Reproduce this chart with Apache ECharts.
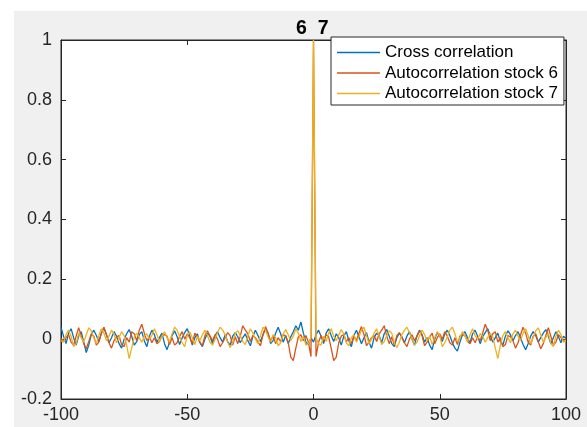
<!DOCTYPE html>
<html>
<head>
<meta charset="utf-8">
<script src="https://cdn.jsdelivr.net/npm/echarts@6/dist/echarts.min.js"></script>
<style>
  html, body { margin: 0; padding: 0; background: #fff; }
  .figure-bg { position: absolute; left: 14px; top: 11px; width: 573px; height: 416px; background: #f0f0f0; }
  #chart { position: absolute; left: 0; top: 0; width: 587px; height: 427px; }
</style>
</head>
<body>
<div class="figure-bg"></div>
<div id="chart"></div>
<script>
// lags -100 .. 100
const lags = Array.from({ length: 201 }, (_, i) => i - 100)

// cross correlation, lags -100 .. 100
const crossCorr = [
  0.040, 0.010, -0.015, 0.020, 0.035, 0.005, -0.020, 0.010, 0.025, -0.010,
  -0.045, -0.020, 0.015, 0.030, 0.012, -0.008, 0.020, 0.038, 0.015, -0.012,
  0.005, 0.025, 0.010, -0.015, -0.030, 0.000, 0.018, 0.032, 0.010, -0.020,
  -0.008, 0.015, 0.025, -0.005, -0.025, 0.010, 0.030, 0.015, -0.010, 0.005,
  0.020, -0.015, -0.035, -0.010, 0.012, 0.028, 0.008, -0.018, 0.005, 0.022,
  0.035, 0.010, -0.020, 0.005, 0.018, -0.012, -0.025, 0.000, 0.020, 0.010,
  -0.015, 0.012, 0.025, 0.005, -0.010, 0.015, -0.008, -0.020, 0.010, 0.022,
  0.008, -0.012, 0.005, 0.018, -0.005, -0.022, 0.010, 0.030, 0.012, -0.008,
  0.015, 0.035, 0.020, -0.015, -0.005, 0.020, 0.040, 0.018, -0.010, 0.012,
  -0.015, 0.008, 0.025, 0.045, 0.030, 0.058, 0.020, -0.010, -0.018, 0.005,
  -0.010,
  0.015, 0.030, 0.010, -0.015, 0.020, 0.035, 0.012, -0.008, 0.018, 0.005,
  -0.020, 0.010, 0.025, -0.005, -0.025, 0.012, 0.030, 0.008, -0.015, 0.005,
  0.022, -0.010, -0.030, 0.005, 0.020, 0.012, -0.012, 0.018, 0.032, 0.010,
  -0.015, -0.025, 0.005, 0.020, 0.008, -0.012, 0.010, 0.025, 0.000, -0.020,
  0.012, 0.030, 0.015, -0.010, 0.005, -0.020, -0.035, 0.000, 0.022, 0.010,
  -0.008, 0.018, 0.030, 0.012, -0.012, -0.030, -0.040, -0.010, 0.015, 0.025,
  0.005, -0.012, 0.018, 0.030, 0.010, -0.015, 0.008, 0.022, 0.035, 0.012,
  -0.010, 0.005, 0.020, -0.008, -0.020, 0.010, 0.028, 0.015, -0.005, 0.012,
  0.025, 0.005, -0.018, -0.035, -0.015, 0.010, 0.025, 0.012, -0.010, 0.005,
  0.020, 0.032, 0.010, -0.015, 0.005, 0.025, 0.008, -0.012, 0.010, 0.002,
]

// autocorrelations are symmetric, values for lags 1 .. 100 (lag 0 = 1)
const auto6Pos = [
  -0.058, -0.010, 0.012, -0.005, 0.015, 0.008, -0.030, -0.072, -0.060, -0.012,
  0.010, 0.015, -0.008, 0.005, -0.015, 0.010, -0.005, 0.020, 0.042, 0.015,
  -0.022, -0.010, 0.005, 0.012, -0.008, 0.018, 0.030, 0.045, 0.010, -0.015,
  0.008, -0.020, 0.012, 0.022, 0.005, -0.012, -0.025, 0.000, 0.015, -0.005,
  0.010, 0.028, 0.012, -0.022, -0.010, 0.008, 0.020, -0.015, 0.005, 0.018,
  0.000, 0.025, 0.010, -0.012, -0.020, 0.005, -0.018, 0.010, 0.015, 0.012,
  -0.008, -0.015, 0.005, -0.012, 0.008, -0.005, 0.020, 0.050, 0.030, -0.005,
  0.018, 0.025, -0.010, 0.005, -0.025, -0.018, 0.012, 0.008, -0.005, -0.030,
  -0.012, 0.015, 0.040, 0.020, -0.010, -0.020, 0.010, 0.018, -0.008, -0.032,
  -0.015, 0.012, 0.038, 0.010, -0.020, -0.010, 0.015, 0.005, -0.005, 0.002,
]
const auto7Pos = [
  0.005, -0.015, -0.020, 0.010, -0.008, 0.020, 0.035, 0.010, -0.005, 0.015,
  0.032, 0.018, -0.012, -0.022, 0.005, 0.015, -0.010, 0.008, 0.030, 0.040,
  0.012, -0.015, 0.000, 0.020, 0.035, 0.010, -0.018, -0.008, 0.012, 0.028,
  0.020, -0.012, -0.028, -0.010, 0.015, 0.030, 0.040, 0.022, 0.000, -0.020,
  -0.010, 0.012, 0.030, 0.015, -0.005, 0.010, -0.018, 0.005, 0.025, 0.012,
  -0.025, -0.012, 0.008, 0.030, 0.040, 0.018, -0.010, 0.005, 0.025, 0.010,
  -0.008, 0.015, 0.035, 0.012, 0.000, 0.018, 0.010, -0.010, 0.005, 0.020,
  0.008, -0.030, -0.065, -0.020, 0.012, 0.025, 0.005, -0.012, 0.018, 0.030,
  0.010, -0.005, 0.020, 0.035, 0.012, -0.015, 0.005, 0.028, 0.038, 0.015,
  -0.010, 0.005, 0.020, -0.015, -0.025, 0.010, 0.030, 0.015, -0.010, -0.005,
]

const yTicks = { min: -0.2, max: 1, interval: 0.2 }
const xTicks = { min: -100, max: 100, interval: 50 }

function mirror(pos) {
  return [...pos.slice().reverse(), 1, ...pos]
}

const seriesDefs = [
  { name: 'Cross correlation', color: '#0072BD', values: crossCorr },
  { name: 'Autocorrelation stock 6', color: '#D95319', values: mirror(auto6Pos) },
  { name: 'Autocorrelation stock 7', color: '#EDB120', values: mirror(auto7Pos) },
]

const chart = echarts.init(document.getElementById('chart'))

const font = 'Liberation Sans, Arial, sans-serif'
const axisText = { color: '#262626', fontSize: 18, fontFamily: font }
const tick = { show: true, inside: true, length: 5, lineStyle: { color: '#262626' } }
const line = { show: true, onZero: false, lineStyle: { color: '#262626', width: 1 } }

chart.setOption({
  animation: false,
  backgroundColor: 'transparent',
  graphic: [{
    type: 'text',
    left: 296,
    top: 19,
    style: { text: '6  7', font: 'bold 19.5px ' + font, fill: '#000' },
  }],
  legend: {
    orient: 'vertical',
    left: 331,
    top: 37,
    padding: [7, 6, 3, 6],
    itemGap: 3.5,
    itemWidth: 43,
    itemHeight: 1.5,
    icon: 'rect',
    borderColor: '#262626',
    borderWidth: 1,
    backgroundColor: '#fff',
    borderRadius: 0,
    textStyle: { fontSize: 17, lineHeight: 17, color: '#000', fontFamily: font },
    data: seriesDefs.map(s => s.name),
  },
  grid: {
    show: true,
    left: 61,
    right: 21,
    top: 40,
    bottom: 28,
    backgroundColor: '#fff',
    borderColor: '#262626',
    borderWidth: 1,
  },
  xAxis: [
    {
      type: 'value', ...xTicks, position: 'bottom',
      axisLine: line, axisTick: tick, splitLine: { show: false },
      axisLabel: { ...axisText, margin: 7 },
    },
    {
      type: 'value', ...xTicks, position: 'top',
      axisLine: line, axisTick: tick, splitLine: { show: false },
      axisLabel: { show: false },
    },
  ],
  yAxis: [
    {
      type: 'value', ...yTicks, position: 'left',
      axisLine: line, axisTick: tick, splitLine: { show: false },
      axisLabel: { ...axisText, margin: 9, formatter: v => String(+v.toFixed(1)) },
    },
    {
      type: 'value', ...yTicks, position: 'right',
      axisLine: line, axisTick: tick, splitLine: { show: false },
      axisLabel: { show: false },
    },
  ],
  series: seriesDefs.map(s => ({
    name: s.name,
    type: 'line',
    data: lags.map((lag, i) => [lag, s.values[i]]),
    showSymbol: false,
    symbol: 'none',
    color: s.color,
    lineStyle: { color: s.color, width: 1.3 },
    clip: true,
  })),
})
</script>
</body>
</html>
